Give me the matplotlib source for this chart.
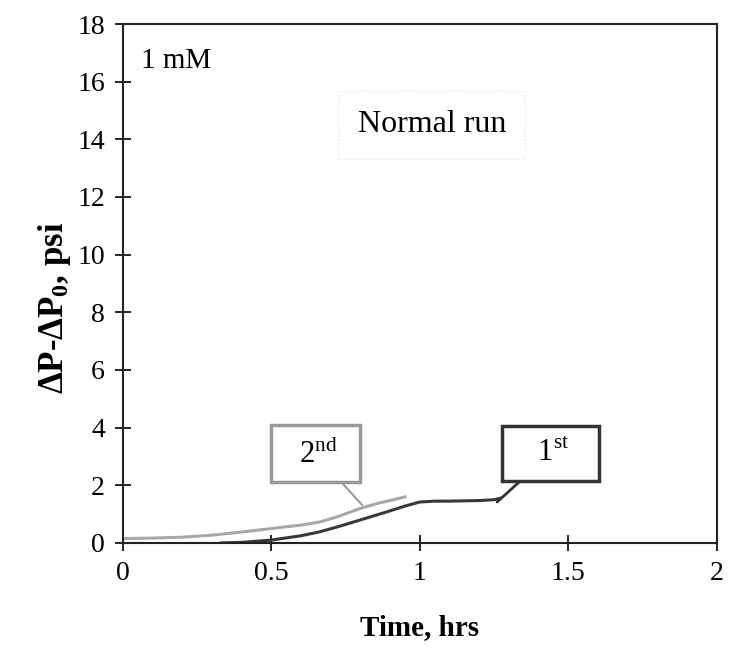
import matplotlib
matplotlib.use("Agg")
import matplotlib.pyplot as plt

plt.rcParams['font.family'] = ['Liberation Serif', 'DejaVu Serif']
plt.rcParams['mathtext.fontset'] = 'custom'
plt.rcParams['mathtext.rm'] = 'Liberation Serif'
plt.rcParams['mathtext.bf'] = 'Liberation Serif:bold'

# run 2 (gray) and run 1 (dark)
t_2nd = [0.0, 0.1, 0.2, 0.3, 0.4, 0.5, 0.6, 0.66, 0.72, 0.8, 0.86, 0.92, 0.95]
dp_2nd = [0.15, 0.17, 0.2, 0.27, 0.38, 0.5, 0.62, 0.72, 0.9, 1.2, 1.38, 1.52, 1.6]

t_1st = [0.33, 0.4, 0.5, 0.6, 0.66, 0.72, 0.8, 0.88, 0.95, 1.0, 1.05, 1.1, 1.15, 1.2, 1.25, 1.27]
dp_1st = [0.0, 0.02, 0.1, 0.25, 0.38, 0.55, 0.8, 1.05, 1.28, 1.42, 1.45, 1.45, 1.46, 1.47, 1.5, 1.55]

xticks = [0, 0.5, 1, 1.5, 2]
xtick_labels = ['0', '0.5', '1', '1.5', '2']
yticks = list(range(0, 19, 2))

fig = plt.figure(figsize=(7.3, 6.67), dpi=100)
ax = fig.add_axes([0.1685, 0.186, 0.8135, 0.778])

ax.plot(t_2nd, dp_2nd, color='#a8a8a8', lw=2.2)
ax.plot(t_1st, dp_1st, color='#383838', lw=2.2)

ax.set_xlim(0, 2)
ax.set_ylim(0, 18)
ax.set_xticks(xticks)
ax.set_xticklabels(xtick_labels)
ax.set_yticks(yticks)
ax.tick_params(direction='inout', length=12, width=1.2, labelsize=20, pad=7)
for s in ax.spines.values():
    s.set_linewidth(1.5)
    s.set_color('#222222')

ax.set_xlabel('Time, hrs', fontsize=21, fontweight='bold', labelpad=20)
ax.set_ylabel(r'ΔP-ΔP$\mathbf{_0}$, psi', fontsize=25, fontweight='bold')
ax.yaxis.set_label_coords(-0.084, 0.453)

ax.text(0.06, 16.7, '1 mM', fontsize=21, ha='left', va='center')
ax.text(1.04, 14.5, 'Normal run', fontsize=23, ha='center', va='center',
        bbox=dict(boxstyle='square,pad=0.6', fc='white', ec='#e8e8e8', ls=':', lw=1))

ax.annotate(r'  2$^{\mathrm{nd}}$  ', xy=(0.805, 1.32), xytext=(0.648, 3.1),
            fontsize=22, ha='center', va='center',
            bbox=dict(boxstyle='square,pad=0.42', fc='white', ec='#999999', lw=2.5),
            arrowprops=dict(arrowstyle='-', color='#999999', lw=1.5,
                            shrinkA=0, shrinkB=0))
ax.annotate(r'   1$^{\mathrm{st}}$   ', xy=(1.26, 1.42), xytext=(1.44, 3.1),
            fontsize=22, ha='center', va='center',
            bbox=dict(boxstyle='square,pad=0.42', fc='white', ec='#333333', lw=2.5),
            arrowprops=dict(arrowstyle='-', color='#333333', lw=2,
                            shrinkA=0, shrinkB=0))

fig.savefig('out.png', dpi=100)
